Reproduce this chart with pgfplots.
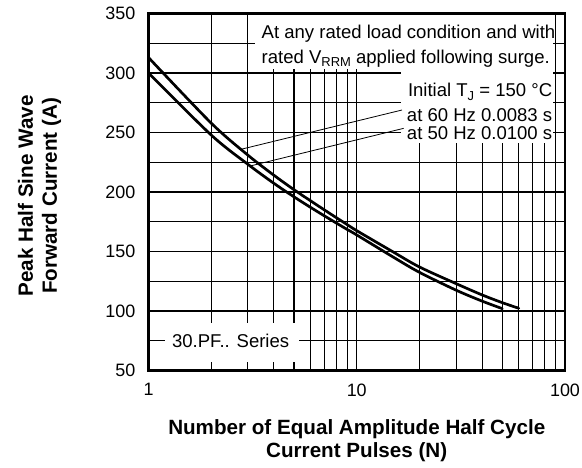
\documentclass[border=0pt]{standalone}
\usepackage{fontspec}
\setmainfont{Liberation Sans}
\usepackage{pgfplots}
\pgfplotsset{compat=1.18}
\begin{document}
\begin{tikzpicture}
\path[use as bounding box] (-148.5bp,-97.5bp) rectangle (433.5bp,370.5bp);
\begin{axis}[
  at={(0,0)}, anchor=south west,
  scale only axis, width=416.5bp, height=357bp,
  xmode=log, xmin=1, xmax=100, ymin=50, ymax=350,
  xtick={1,10,100}, xticklabels={1,10,100},
  minor xtick={2,3,4,5,6,7,8,9,20,30,40,50,60,70,80,90},
  ytick={50,100,...,350}, minor ytick={75,125,...,325},
  grid=both,
  major grid style={black, line width=1.2bp},
  minor grid style={black, line width=1.2bp},
  axis line style={black, line width=2.2bp},
  major tick length=0pt, minor tick length=0pt,
  /pgf/number format/assume math mode=true,
  ticklabel style={font=\fontsize{18}{20}\selectfont},
  xticklabel style={yshift=-9.5bp},
  yticklabel style={xshift=-9.7bp},
  xlabel={Number of Equal Amplitude Half Cycle\\Current Pulses (N)},
  xlabel style={at={(axis description cs:0.5,0)}, anchor=center, yshift=-70.1bp,
    align=center, font=\bfseries\fontsize{20.7}{22.3}\selectfont},
  ylabel={Peak Half Sine Wave\\Forward Current (A)},
  ylabel style={at={(axis description cs:-0.2615,0.489)}, anchor=center,
    align=center, font=\bfseries\fontsize{20.7}{24}\selectfont},
  clip=false,
]
% 60 Hz
\addplot[black, line width=2.7bp, smooth, line cap=round] coordinates {
 (1,313) (2,257.9) (3,231) (4,214.1) (5,201.9) (6,192.6) (7,184.9) (8,178.3) (9,172.6)
 (10,167.5) (15,149.5) (20,137) (30,123) (40,113.5) (50,107) (60,102.3)};
% 50 Hz
\addplot[black, line width=2.7bp, smooth, line cap=round] coordinates {
 (1,300) (2,247.9) (3,223.3) (4,207.3) (5,195.9) (6,187.1) (7,179.9) (8,173.8) (9,168.5)
 (10,163.9) (15,145.2) (20,132.5) (30,117.5) (40,108.3) (50,102)};
% white boxes
\fill[white] (axis cs:3.24,303) rectangle (axis cs:87.5,348.8);
\fill[white] (axis cs:16.4,303.5) rectangle (axis cs:87.5,241.2);
\fill[white] (axis cs:1.2,57.5) rectangle (axis cs:5.3,90);
% pointer lines
\draw[black, line width=0.8bp] (axis cs:16.5,268.9) -- (axis cs:2.8,236);
\draw[black, line width=0.8bp] (axis cs:16.8,253.5) -- (axis cs:3.1,222);
% texts
\node[anchor=base west, inner sep=0pt, font=\fontsize{18.6}{20}\selectfont] at (axis cs:3.49,329.2) {At any rated load condition and with};
\node[anchor=base west, inner sep=0pt, font=\fontsize{18.6}{20}\selectfont] at (axis cs:3.49,308.2) {rated V\raisebox{-0.35ex}{\fontsize{13}{14}\selectfont RRM} applied following surge.};
\node[anchor=base east, inner sep=0pt, font=\fontsize{18.6}{20}\selectfont] at (axis cs:87,280.1) {Initial T\raisebox{-0.35ex}{\fontsize{13}{14}\selectfont J} = 150 °C};
\node[anchor=base east, inner sep=0pt, font=\fontsize{18.6}{20}\selectfont] at (axis cs:87,259.1) {at 60 Hz 0.0083 s};
\node[anchor=base east, inner sep=0pt, font=\fontsize{18.6}{20}\selectfont] at (axis cs:87,243.7) {at 50 Hz 0.0100 s};
\node[anchor=center, inner sep=0pt, font=\fontsize{18.6}{20}\selectfont] at (axis cs:2.48,75) {30.PF.. Series};
\end{axis}
\end{tikzpicture}
\end{document}
